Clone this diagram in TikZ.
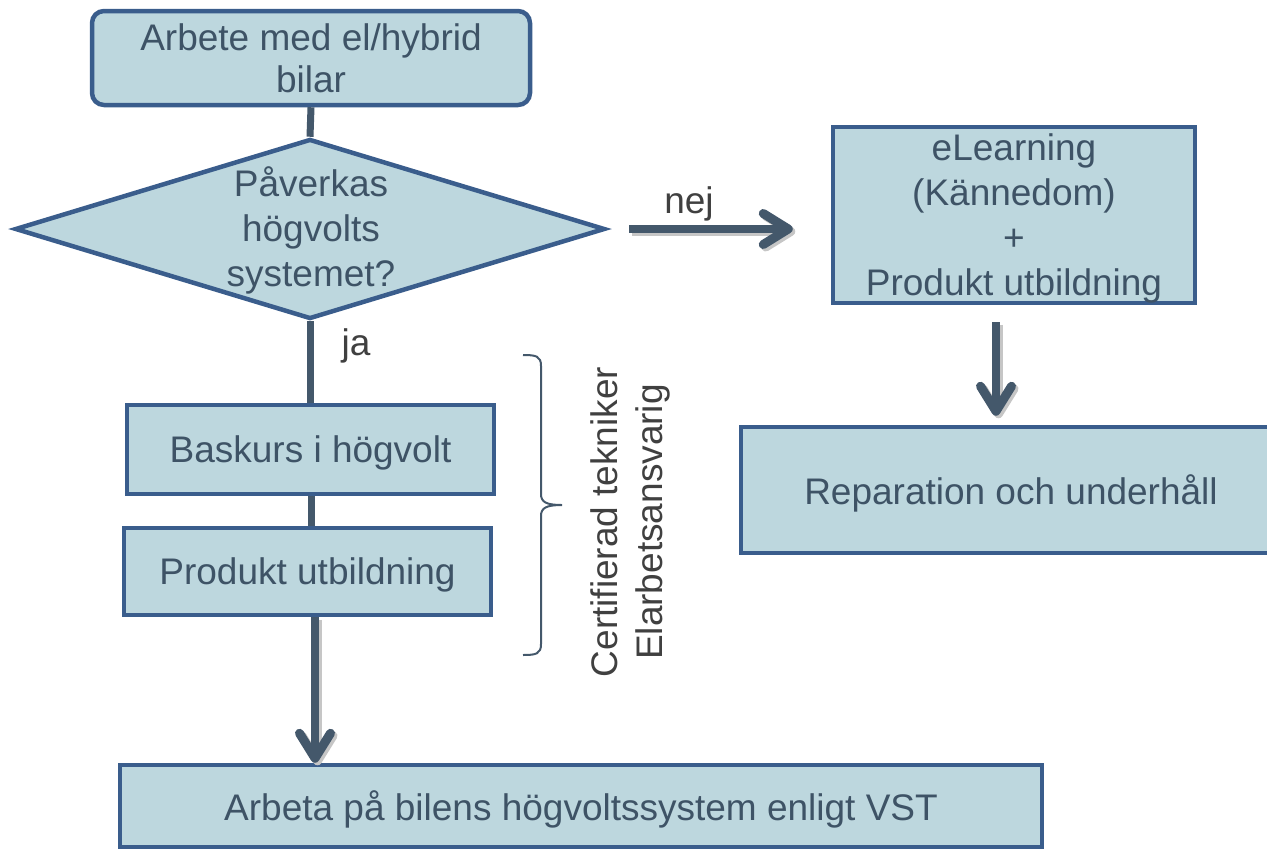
\documentclass[tikz,border=0pt]{standalone}
\usepackage{fontspec}
\setmainfont{Liberation Sans}
\usetikzlibrary{shapes.geometric,arrows.meta}
\definecolor{boxfill}{HTML}{BDD7DE}
\definecolor{boxline}{HTML}{3A5D8C}
\definecolor{txt}{HTML}{3E5366}
\definecolor{conn}{HTML}{44586B}
\definecolor{lbl}{HTML}{404040}
\begin{document}
\begin{tikzpicture}[x=1pt,y=-1pt,
  font=\fontsize{37}{45}\selectfont,
  box/.style={draw=boxline, line width=4.5pt, fill=boxfill, text=txt, inner sep=0pt, align=center},
  lowbox/.style={box, text depth=0pt},
  link/.style={draw=conn, line width=7pt},
  tiparr/.style={-{Straight Barb[length=25pt,width=31pt,line width=9pt,round]}},
  arr/.style={draw=conn, line width=8pt, tiparr,
    preaction={draw=gray!45, line width=8pt, tiparr, transform canvas={shift={(2.5pt,-2.5pt)}}}},
  bracestyle/.style={draw=conn, line width=2pt},
  lab/.style={text=lbl, inner sep=0pt}]
\useasboundingbox (0,0) rectangle (1267,849);
\clip (0,0) rectangle (1267,849);

\node[box, rounded corners=12pt, minimum width=438pt, minimum height=94pt, font=\fontsize{37}{42}\selectfont] (start) at (311,58) {Arbete med el/hybrid\\bilar};
\node[box, diamond, minimum width=590pt, minimum height=180pt] (dia) at (310,229) {};
\node[text=txt, align=center, inner sep=0pt] (diatxt) at (311,230) {Påverkas\\högvolts\\systemet?};
\node[lowbox, minimum width=367pt, minimum height=89pt] (bask) at (310.5,449.5) {Baskurs i högvolt};
\node[lowbox, minimum width=367pt, minimum height=87pt] (prod) at (307.5,571.5) {Produkt utbildning};
\node[lowbox, minimum width=922pt, minimum height=82pt] (fin) at (581,806) {Arbeta på bilens högvoltssystem enligt VST};
\node[lowbox, minimum width=362pt, minimum height=176pt] (el) at (1014,215) {eLearning\\(Kännedom)\\+\\Produkt utbildning};
\node[lowbox, minimum width=540pt, minimum height=126pt] (rep) at (1011,490) {Reparation och underhåll};

\draw[link] (start.south) -- (dia.north);
\draw[link] (dia.south) -- (dia.south |- bask.north);
\draw[link] ([xshift=0.5pt]bask.south) -- ([xshift=0.5pt]bask.south |- prod.north);

\draw[arr] ([xshift=22pt]dia.east) -- ([xshift=-38pt]dia.east -| el.west);
\coordinate (a1) at ([xshift=-18pt,yshift=-17pt]el.south);
\draw[arr] (a1) -- ([yshift=9pt]a1 |- rep.north);
\draw[arr] ([xshift=7.5pt]prod.south) -- ([xshift=7.5pt]prod.south |- fin.north);

\node[lab, anchor=base] (nej) at (689,213) {nej};
\node[lab, anchor=base] (ja) at (356,355) {ja};

\draw[bracestyle] (523,355) .. controls (536,355) and (541,356) .. (541,366)
  -- (541,494) .. controls (541,502) and (546,505) .. (562,505)
  .. controls (546,505) and (541,508) .. (541,516)
  -- (541,644) .. controls (541,654) and (536,655) .. (523,655);

\node[lab, rotate=90, align=center] (cert) at (630,522) {Certifierad tekniker\\Elarbetsansvarig};
\end{tikzpicture}
\end{document}
